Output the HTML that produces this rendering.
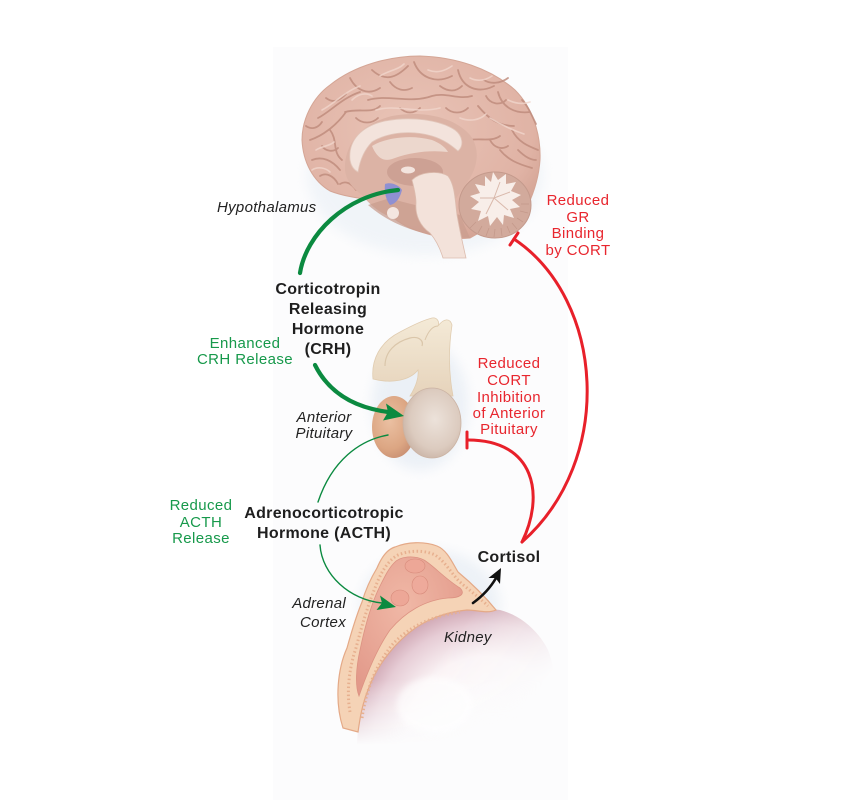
<!DOCTYPE html>
<html><head><meta charset="utf-8"><style>
html,body{margin:0;padding:0;background:#fff;}
svg{display:block}
.r{font-family:"Liberation Sans",sans-serif;font-size:15px;letter-spacing:0.4px}
.i{font-family:"Liberation Sans",sans-serif;font-size:15px;font-style:italic;fill:#222;letter-spacing:0.3px}
.b{font-family:"Liberation Sans",sans-serif;font-size:16px;font-weight:bold;fill:#1e1e1e;letter-spacing:0.3px}
.red{fill:#e8262e}
.grn{fill:#17994b}
</style></head><body>
<svg width="850" height="800" viewBox="0 0 850 800" xmlns="http://www.w3.org/2000/svg">
<defs>
  <filter id="blur6" x="-50%" y="-50%" width="200%" height="200%"><feGaussianBlur stdDeviation="6"/></filter>
  <filter id="blur3" x="-50%" y="-50%" width="200%" height="200%"><feGaussianBlur stdDeviation="3"/></filter>
  <radialGradient id="kid" gradientUnits="userSpaceOnUse" cx="485" cy="735" r="130">
    <stop offset="0" stop-color="#ffffff"/>
    <stop offset="0.6" stop-color="#faf2f4"/>
    <stop offset="0.85" stop-color="#e6ccd5"/>
    <stop offset="1" stop-color="#cfa6b3"/>
  </radialGradient>
  <linearGradient id="kidfade" gradientUnits="userSpaceOnUse" x1="410" y1="625" x2="525" y2="710">
    <stop offset="0" stop-color="#fff"/>
    <stop offset="0.3" stop-color="#fff"/>
    <stop offset="1" stop-color="#000"/>
  </linearGradient>
  <linearGradient id="kidfade2" gradientUnits="userSpaceOnUse" x1="0" y1="680" x2="0" y2="745">
    <stop offset="0" stop-color="#fff"/>
    <stop offset="1" stop-color="#000"/>
  </linearGradient>
  <mask id="km" maskUnits="userSpaceOnUse" x="0" y="0" width="850" height="800">
    <rect x="0" y="0" width="850" height="800" fill="url(#kidfade)"/>
  </mask>
  <mask id="km2" maskUnits="userSpaceOnUse" x="0" y="0" width="850" height="800">
    <rect x="0" y="0" width="850" height="800" fill="url(#kidfade2)"/>
  </mask>
  <radialGradient id="post" cx="0.55" cy="0.45" r="0.6">
    <stop offset="0" stop-color="#ece2da"/>
    <stop offset="0.7" stop-color="#dccbbf"/>
    <stop offset="1" stop-color="#c9b3a5"/>
  </radialGradient>
  <radialGradient id="ant" cx="0.4" cy="0.4" r="0.65">
    <stop offset="0" stop-color="#ebc0a2"/>
    <stop offset="0.7" stop-color="#dca683"/>
    <stop offset="1" stop-color="#c99073"/>
  </radialGradient>
  <linearGradient id="stalk" x1="0" y1="0" x2="0" y2="1">
    <stop offset="0" stop-color="#f4ead7"/>
    <stop offset="1" stop-color="#e6d3bb"/>
  </linearGradient>
  <radialGradient id="cereb" cx="0.45" cy="0.4" r="0.65">
    <stop offset="0" stop-color="#e9c4b7"/>
    <stop offset="0.8" stop-color="#e0b3a5"/>
    <stop offset="1" stop-color="#d3a394"/>
  </radialGradient>
  <radialGradient id="med" cx="0.45" cy="0.35" r="0.7">
    <stop offset="0" stop-color="#f0b8a6"/>
    <stop offset="1" stop-color="#e2998a"/>
  </radialGradient>
</defs>

<!-- faint panel background -->
<rect x="273" y="47" width="295" height="753" fill="#fcfcfd"/>

<!-- ===== BRAIN ===== -->
<ellipse cx="425" cy="175" rx="118" ry="80" fill="#e3ebf3" opacity="0.45" filter="url(#blur6)"/>
<path d="M302,140 C302,120 312,98 330,85 C355,65 390,56 420,56 C455,57 490,68 515,90 C533,108 541,135 540,160 C539,175 535,190 528,205 L470,238 C450,240 430,236 410,228 C395,221 385,212 378,201 C365,199 345,197 330,191 C313,181 303,162 302,140 Z" fill="url(#cereb)" stroke="#d4a595" stroke-width="1"/>
<!-- gyri -->
<g fill="none" stroke="#c08d7e" stroke-width="1.8" stroke-linecap="round" opacity="0.85">
  <path d="M318,118 C330,112 342,98 360,92"/>
  <path d="M310,140 C322,136 336,126 346,112"/>
  <path d="M312,160 C322,156 332,160 340,170"/>
  <path d="M350,78 C356,90 368,96 380,88"/>
  <path d="M372,70 C385,82 396,78 408,66"/>
  <path d="M414,62 C420,78 436,84 452,76"/>
  <path d="M458,70 C462,88 478,94 494,86"/>
  <path d="M498,92 C502,108 516,114 530,112"/>
  <path d="M512,130 C518,142 528,146 538,150"/>
  <path d="M368,100 C388,94 410,104 432,96 C446,92 458,100 472,96"/>
  <path d="M478,106 C488,118 498,126 514,126"/>
  <path d="M500,150 C508,160 518,164 532,168"/>
  <path d="M330,130 C338,140 332,152 342,160"/>
  <path d="M390,82 C396,90 404,92 412,88"/>
  <path d="M440,86 C448,92 456,92 462,86"/>
  <path d="M484,80 C490,84 500,84 508,78"/>
  <path d="M522,100 C528,106 532,116 536,124"/>
  <path d="M320,176 C326,172 334,176 338,184"/>
  <path d="M470,140 C480,138 492,142 500,136"/>
  <path d="M345,112 C360,108 372,114 380,106"/>
  <path d="M326,98 C334,104 340,100 346,94"/>
  <path d="M356,118 C362,124 372,124 378,118"/>
  <path d="M400,108 C406,114 414,114 420,108"/>
  <path d="M446,108 C452,114 462,114 468,108"/>
  <path d="M486,96 C490,104 500,106 506,100"/>
  <path d="M518,150 C524,156 530,160 536,160"/>
  <path d="M490,140 C494,148 502,150 508,146"/>
  <path d="M322,146 C326,152 334,152 338,148"/>
  <path d="M306,126 C312,130 318,128 322,122"/>
  <path d="M340,184 C346,180 352,184 356,190"/>
</g>
<g fill="none" stroke="#f1d6cc" stroke-width="1.6" stroke-linecap="round" opacity="0.8">
  <path d="M322,110 C334,104 344,92 360,86"/>
  <path d="M380,76 C390,70 398,70 404,64"/>
  <path d="M428,70 C438,74 446,70 452,66"/>
  <path d="M470,78 C478,82 486,80 492,76"/>
  <path d="M508,100 C516,104 524,104 530,102"/>
  <path d="M316,150 C322,146 330,146 334,142"/>
  <path d="M376,110 C396,104 416,114 440,108"/>
  <path d="M490,118 C500,124 512,130 524,134"/>
  <path d="M312,170 C318,166 326,168 330,172"/>
  <path d="M352,100 C358,94 366,92 372,96"/>
  <path d="M460,118 C470,122 480,120 486,114"/>
</g>
<!-- medial inner area -->
<path d="M345,170 C344,145 360,124 392,116 C425,110 455,118 470,135 C480,148 478,165 470,178 L455,200 C440,215 420,222 400,220 C382,216 370,205 362,195 C352,188 346,180 345,170 Z" fill="#dcb3a5"/>
<!-- corpus callosum -->
<path d="M350,160 C348,140 362,126 385,121 C412,116 440,120 455,130 C463,136 464,146 458,151 C452,146 445,140 432,136 C412,130 388,132 372,142 C364,150 360,160 358,172 C354,170 351,166 350,160 Z" fill="#f3e3dc" stroke="#e2c6ba" stroke-width="0.8"/>
<path d="M372,146 C385,138 410,134 432,140 C440,143 446,148 448,152 C430,150 412,152 395,158 C385,162 378,160 372,146 Z" fill="#ecd7cd"/>
<!-- thalamus -->
<ellipse cx="415" cy="172" rx="28" ry="14" fill="#cda194"/>
<ellipse cx="408" cy="170" rx="7" ry="3.5" fill="#f3e4de"/>
<!-- temporal underside darker -->
<path d="M368,205 C385,220 410,232 440,236 L470,238 L460,215 C440,210 410,205 390,198 Z" fill="#c99d8f" opacity="0.75"/>
<!-- hypothalamus -->
<path d="M385,184 C390,182 398,184 402,190 C400,198 396,204 390,205 C386,200 384,192 385,184 Z" fill="#8f90d2"/>
<circle cx="393" cy="213" r="6" fill="#f4e6e0"/>
<!-- cerebellum -->
<ellipse cx="495" cy="205" rx="36" ry="33" fill="#d2aa9c" stroke="#c49a8c" stroke-width="1"/>
<g stroke="#bf9284" stroke-width="0.8" opacity="0.7">
  <line x1="470" y1="228" x2="476" y2="222"/><line x1="478" y1="233" x2="482" y2="226"/>
  <line x1="486" y1="236" x2="489" y2="228"/><line x1="494" y1="237" x2="495" y2="229"/>
  <line x1="502" y1="236" x2="501" y2="228"/><line x1="510" y1="233" x2="507" y2="226"/>
  <line x1="517" y1="229" x2="512" y2="223"/><line x1="523" y1="222" x2="517" y2="218"/>
  <line x1="528" y1="213" x2="520" y2="211"/><line x1="529" y1="204" x2="521" y2="204"/>
</g>
<polygon points="493,172 498,180 506,174 506,184 516,182 511,191 521,195 512,200 520,207 510,209 514,218 504,215 503,225 497,217 490,226 488,216 478,221 481,211 471,209 479,202 470,196 480,193 475,184 485,186 485,176 491,182" fill="#f8eee9"/>
<g stroke="#d9b8ab" stroke-width="1" fill="none">
  <path d="M494,198 L500,182"/><path d="M494,198 L510,192"/><path d="M494,198 L508,210"/><path d="M494,198 L486,214"/><path d="M494,198 L480,198"/>
</g>
<!-- brainstem -->
<path d="M412,180 C420,172 438,170 448,176 C455,185 455,200 457,215 C460,232 463,245 466,258 L443,258 C440,248 436,240 430,233 C420,226 415,215 416,203 C416,195 414,188 412,180 Z" fill="#f3e2da" stroke="#dcbcae" stroke-width="0.8"/>

<!-- ===== PITUITARY ===== -->
<ellipse cx="420" cy="405" rx="48" ry="65" fill="#e1e9f2" opacity="0.6" filter="url(#blur6)"/>
<path d="M373,379 C371,360 380,342 400,332 C413,325 424,320 432,318 C437,317 440,322 438,326 C444,318 450,318 452,325 C449,345 448,370 453,396 L410,396 C415,388 419,378 418,370 C410,380 393,384 373,379 Z" fill="url(#stalk)" stroke="#e0ccb0" stroke-width="0.8"/>
<path d="M385,366 C385,352 395,342 410,338 C418,336 424,340 422,346" fill="none" stroke="#dac6aa" stroke-width="1.2"/>
<path d="M425,340 C428,332 432,326 438,326" fill="none" stroke="#dac6aa" stroke-width="1"/>
<ellipse cx="394" cy="427" rx="22" ry="31" fill="url(#ant)"/>
<ellipse cx="432" cy="423" rx="29" ry="35" fill="url(#post)" stroke="#cbb3a3" stroke-width="0.8"/>

<!-- ===== KIDNEY ===== -->
<ellipse cx="430" cy="605" rx="70" ry="55" fill="#e1e9f2" opacity="0.55" filter="url(#blur6)"/>
<g mask="url(#km)">
  <g mask="url(#km2)">
    <path d="M357,745 C358,700 378,660 405,636 C430,615 465,605 500,610 C520,615 538,630 548,650 C556,670 558,700 556,745 Z" fill="url(#kid)"/>
  </g>
</g>
<ellipse cx="435" cy="705" rx="38" ry="28" fill="#ffffff" opacity="0.6" filter="url(#blur3)"/>

<!-- ===== ADRENAL ===== -->
<path d="M343,728 C334,700 338,668 347,648 C352,630 357,614 362,602 C366,588 371,578 377,568 C382,556 388,549 395,547 C407,542 424,541 437,546 C447,550 452,562 458,572 C470,582 483,594 496,610 C487,614 477,610 467,610 C445,612 425,620 410,632 C390,648 375,670 368,690 C362,705 360,718 358,732 Z" fill="#f5d3b6" stroke="#e4a987" stroke-width="1.2"/>
<path d="M350,712 C346,690 350,665 356,648 C362,625 368,605 375,588 C380,574 388,560 398,555 C410,550 425,550 435,555 C446,562 452,575 462,584 C472,592 482,600 488,606" fill="none" stroke="#e7b08f" stroke-width="3" stroke-dasharray="1.5 2.5"/>
<path d="M362,718 C366,690 376,665 392,645 C408,627 432,616 460,612" fill="none" stroke="#e7b08f" stroke-width="3" stroke-dasharray="1.5 2.5"/>
<path d="M394,563 C400,556 414,555 424,560 C434,566 444,578 460,588 C466,594 460,598 448,598 C425,600 405,612 390,630 C376,650 366,676 359,696 C355,686 356,668 360,650 C365,626 372,602 380,586 C385,576 389,568 394,563 Z" fill="url(#med)" stroke="#dc9282" stroke-width="0.8"/>
<ellipse cx="415" cy="566" rx="10" ry="7" fill="#eda797" stroke="#d88c7c" stroke-width="0.6"/>
<ellipse cx="420" cy="585" rx="8" ry="9" fill="#eeaa9b" stroke="#d88c7c" stroke-width="0.6"/>
<ellipse cx="400" cy="598" rx="9" ry="8" fill="#eda797" stroke="#d88c7c" stroke-width="0.6"/>

<!-- ===== CONNECTORS ===== -->
<g fill="none" stroke-linecap="round">
  <path d="M300,273 C306,235 345,195 398,190" stroke="#0b8a40" stroke-width="4.2"/>
  <path d="M315,365 Q335,405 388,412" stroke="#0b8a40" stroke-width="4.2"/>
  <path d="M388,435 C360,440 332,460 318,502" stroke="#0b8a40" stroke-width="1.4"/>
  <path d="M320,545 C322,575 350,600 382,603" stroke="#0b8a40" stroke-width="1.4"/>
  <path d="M522,542 C615,460 605,300 514,239" stroke="#e8202a" stroke-width="3"/>
  <path d="M522,542 C545,495 535,440 468,440" stroke="#e8202a" stroke-width="3"/>
  <path d="M473,603 Q488,592 496,578" stroke="#111" stroke-width="2.6"/>
</g>
<line x1="510" y1="245" x2="518" y2="233" stroke="#e8202a" stroke-width="3" stroke-linecap="round"/>
<line x1="467" y1="432" x2="467" y2="448" stroke="#e8202a" stroke-width="3" stroke-linecap="round"/>
<polygon points="404,416 383,420.5 388,412 386,403.5" fill="#0b8a40"/>
<polygon points="396,607 376.5,610 382,603 380,595.5" fill="#0b8a40"/>
<polygon points="501,568 500,584 495.5,578 488.5,578" fill="#111"/>

<!-- ===== TEXT ===== -->
<text class="i" x="217" y="212">Hypothalamus</text>

<text class="b" text-anchor="middle" x="328" y="294">Corticotropin</text>
<text class="b" text-anchor="middle" x="328" y="314">Releasing</text>
<text class="b" text-anchor="middle" x="328" y="334">Hormone</text>
<text class="b" text-anchor="middle" x="328" y="354">(CRH)</text>

<text class="r grn" text-anchor="middle" x="245" y="348">Enhanced</text>
<text class="r grn" text-anchor="middle" x="245" y="364">CRH Release</text>

<text class="i" text-anchor="middle" x="324" y="422">Anterior</text>
<text class="i" text-anchor="middle" x="324" y="438">Pituitary</text>

<text class="r red" text-anchor="middle" x="578" y="205">Reduced</text>
<text class="r red" text-anchor="middle" x="578" y="222">GR</text>
<text class="r red" text-anchor="middle" x="578" y="238">Binding</text>
<text class="r red" text-anchor="middle" x="578" y="255">by CORT</text>

<text class="r red" text-anchor="middle" x="509" y="368">Reduced</text>
<text class="r red" text-anchor="middle" x="509" y="385">CORT</text>
<text class="r red" text-anchor="middle" x="509" y="402">Inhibition</text>
<text class="r red" text-anchor="middle" x="509" y="418">of Anterior</text>
<text class="r red" text-anchor="middle" x="509" y="434">Pituitary</text>

<text class="r grn" text-anchor="middle" x="201" y="510">Reduced</text>
<text class="r grn" text-anchor="middle" x="201" y="527">ACTH</text>
<text class="r grn" text-anchor="middle" x="201" y="543">Release</text>

<text class="b" text-anchor="middle" x="324" y="518">Adrenocorticotropic</text>
<text class="b" text-anchor="middle" x="324" y="538">Hormone (ACTH)</text>

<text class="b" text-anchor="middle" x="509" y="562">Cortisol</text>

<text class="i" text-anchor="end" x="346" y="608">Adrenal</text>
<text class="i" text-anchor="end" x="346" y="627">Cortex</text>

<text class="i" x="444" y="642">Kidney</text>
</svg>
</body></html>
